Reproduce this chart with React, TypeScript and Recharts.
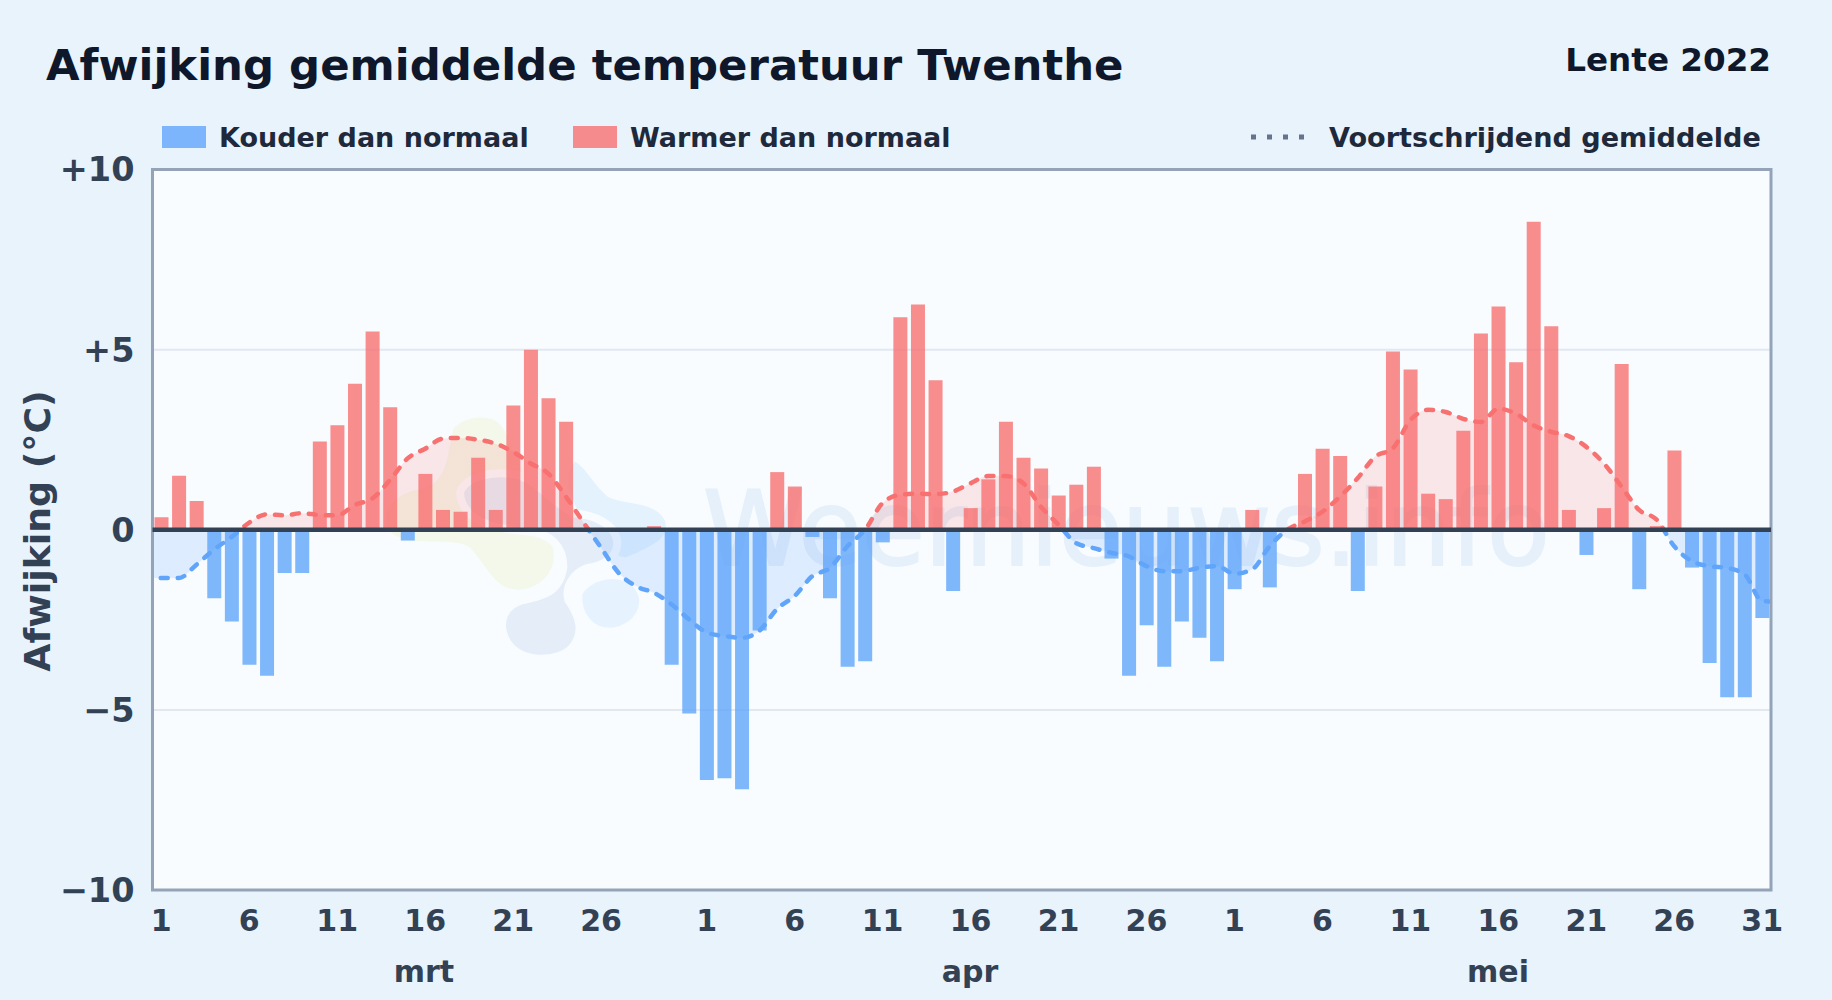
import React from 'react';
import { ComposedChart, Area, Bar, XAxis, YAxis, CartesianGrid, ReferenceLine, ReferenceArea } from 'recharts';

// afwijking per dag (graden t.o.v. normaal)
const maart = [
  0.35, 1.5, 0.8, -1.9, -2.55, -3.75, -4.05, -1.2, -1.2, 2.45, 2.9, 4.05, 5.5, 3.4, -0.3, 1.55,
  0.55, 0.5, 2.0, 0.55, 3.45, 5.0, 3.65, 3.0, 0, 0, 0, 0, 0.1, -3.75, -5.1,
];
const april = [
  -6.95, -6.9, -7.2, -2.8, 1.6, 1.2, -0.2, -1.9, -3.8, -3.65, -0.35, 5.9, 6.25, 4.15, -1.7, 0.6,
  1.4, 3.0, 2.0, 1.7, 0.95, 1.25, 1.75, -0.8, -4.05, -2.65, -3.8, -2.55, -3.0, -3.65,
];
const mei = [
  -1.65, 0.55, -1.6, 0, 1.55, 2.25, 2.05, -1.7, 1.2, 4.95, 4.45, 1.0, 0.85, 2.75, 5.45, 6.2,
  4.65, 8.55, 5.65, 0.55, -0.7, 0.6, 4.6, -1.65, 0.1, 2.2, -1.05, -3.7, -4.65, -4.65, -2.45,
];

// voortschrijdend gemiddelde
const gemMaart = [
  -1.34, -1.34, -0.97, -0.55, -0.2, 0.2, 0.43, 0.4, 0.46, 0.41, 0.4, 0.69, 0.87, 1.38, 1.98, 2.25,
  2.53, 2.55, 2.5, 2.39, 2.16, 1.84, 1.56, 0.92, 0.2, -0.5, -1.2, -1.57, -1.75, -2.07, -2.49,
];
const gemApril = [
  -2.85, -2.95, -3.0, -2.8, -2.2, -1.84, -1.29, -1.06, -0.46, 0, 0.74, 0.97, 1.0, 0.99, 1.06, 1.29,
  1.49, 1.49, 1.29, 0.64, 0.14, -0.37, -0.51, -0.64, -0.74, -1.01, -1.15, -1.15, -1.06, -1.01,
];
const gemMei = [
  -1.22, -1.1, -0.46, 0, 0.23, 0.5, 0.92, 1.43, 2.03, 2.26, 3.04, 3.33, 3.27, 3.08, 2.99, 3.36,
  3.22, 2.9, 2.72, 2.6, 2.3, 1.84, 1.2, 0.55, 0.28, -0.46, -0.87, -1.01, -1.06, -1.24, -1.98,
];
// de lijn loopt door tot de rand van het plotvlak (buiten het domein, wordt afgeknipt)
const gemRandLinks = -1.35;
const gemRandRechts = -2.0;

const maanden = ['mrt', 'apr', 'mei'];
const dagTicks = [1, 6, 11, 16, 21, 26];
const yTicks = [-10, -5, 0, 5, 10];

const afwijking = [...maart, ...april, ...mei];
const gemiddelde = [...gemMaart, ...gemApril, ...gemMei];
const dagen = [
  ...maart.map((_, i) => i + 1),
  ...april.map((_, i) => i + 1),
  ...mei.map((_, i) => i + 1),
];

const rijen = afwijking.map((v, i) => ({
  index: i,
  dag: dagen[i],
  koud: v < 0 ? v : null,
  warm: v > 0 ? v : null,
  gem: gemiddelde[i],
}));

const data = [
  { index: -1, dag: 0, koud: null, warm: null, gem: gemRandLinks },
  ...rijen,
  { index: afwijking.length, dag: 0, koud: null, warm: null, gem: gemRandRechts },
];

const xTicks = rijen
  .filter((d) => dagTicks.includes(d.dag) || (d.dag === 31 && d.index === 91))
  .map((d) => d.index);

const FONT = '"DejaVu Sans", sans-serif';
const BLUE = '#60a5fa';
const RED = '#f87171';
const TICK = '#334155';
const INK = '#0f172a';
const LEGEND_INK = '#1e293b';

const W = 1832;
const H = 1000;
const PLOT = { left: 152.5, right: 1771, top: 169.5, bottom: 890 };

const formatY = (v: number) => (v > 0 ? `+${v}` : v < 0 ? `\u2212${-v}` : '0');

const text = (left: number, top: number, size: number, color: string, extra = {}) => ({
  position: 'absolute' as const,
  left,
  top,
  fontFamily: FONT,
  fontWeight: 700,
  fontSize: size,
  lineHeight: 1,
  color,
  whiteSpace: 'nowrap' as const,
  ...extra,
});

const swatch = (left: number, color: string) => ({
  position: 'absolute' as const,
  left,
  top: 126,
  width: 44,
  height: 22,
  background: color,
  opacity: 0.8,
});

// logo en tekst achter de grafiek
const Watermark = () => (
  <svg width={W} height={H} style={{ position: 'absolute', left: 0, top: 0 }}>
    <g transform="translate(360 390) scale(0.3333)" stroke="#f8fcff" strokeWidth={24} strokeLinejoin="round">
      <path
        d="M270 110 C310 60 410 55 440 110 C480 180 530 330 590 470 C610 560 530 620 460 610 C390 600 370 530 320 480 C260 450 130 490 80 430 C40 370 90 300 180 285 C260 270 250 170 270 110 Z"
        fill="#f3f8ea"
      />
      <path
        d="M640 200 C690 220 700 270 750 310 C800 335 890 320 925 385 C950 450 880 480 810 510 C770 530 720 470 660 400 C620 330 590 260 640 200 Z"
        fill="#e4f2fe"
      />
      <path
        d="M300 310 C310 260 400 240 470 255 C530 270 570 330 640 370 C700 375 770 400 772 460 C770 510 720 530 680 535 C640 550 615 590 625 630 C660 680 675 730 635 775 C590 820 480 820 440 755 C410 700 430 645 490 630 C540 620 600 610 610 530 C610 470 570 430 510 425 C440 420 310 410 300 310 Z"
        fill="#e5eef8"
      />
      <path
        d="M655 610 C685 555 785 530 835 590 C870 640 840 710 760 725 C695 730 650 680 655 610 Z"
        fill="#e6f3fe"
      />
    </g>
    <text x={703} y={565} fontFamily={FONT} fontSize={102.7} fill="#e5f0fa" stroke="#e5f0fa" strokeWidth={2}>
      Weernieuws.info
    </text>
  </svg>
);

export default function App() {
  return (
    <div style={{ position: 'absolute', left: 0, top: 0, width: W, height: H, background: '#e8f3fc', overflow: 'hidden' }}>
      <div
        style={{
          position: 'absolute',
          left: PLOT.left,
          top: PLOT.top,
          width: PLOT.right - PLOT.left,
          height: PLOT.bottom - PLOT.top,
          background: '#f8fcff',
        }}
      />
      <Watermark />

      <div style={text(46, 44, 43.4, INK)}>Afwijking gemiddelde temperatuur Twenthe</div>
      <div style={text(0, 44, 32.6, INK, { left: 'auto', right: 61 })}>Lente 2022</div>

      <div style={swatch(162, BLUE)} />
      <div style={text(219, 124, 27, LEGEND_INK)}>Kouder dan normaal</div>
      <div style={swatch(573, RED)} />
      <div style={text(630, 124, 27, LEGEND_INK)}>Warmer dan normaal</div>
      <svg width={60} height={10} style={{ position: 'absolute', left: 1250, top: 132 }}>
        <line x1={1} y1={5} x2={59} y2={5} stroke="#64748b" strokeWidth={5} strokeDasharray="5 11" />
      </svg>
      <div style={text(1329, 124, 27.1, LEGEND_INK)}>Voortschrijdend gemiddelde</div>

      <div
        style={text(38, 531, 36.3, TICK, {
          transform: 'translate(-50%, -50%) rotate(-90deg)',
        })}
      >
        Afwijking (°C)
      </div>

      {maanden.map((m, i) => (
        <div
          key={m}
          style={text([424, 970, 1498][i], 957, 30, TICK, { transform: 'translateX(-50%)' })}
        >
          {m}
        </div>
      ))}

      <div style={{ position: 'absolute', left: 0, top: 0 }}>
        <ComposedChart
          width={W}
          height={H}
          data={data}
          margin={{ left: 0, right: W - PLOT.right, top: PLOT.top, bottom: 0 }}
          barSize={14}
        >
          <defs>
            <linearGradient id="gemLijn" gradientUnits="userSpaceOnUse" x1={0} y1={PLOT.top} x2={0} y2={PLOT.bottom}>
              <stop offset="50%" stopColor={RED} />
              <stop offset="50%" stopColor={BLUE} />
            </linearGradient>
            <linearGradient id="gemVlak" gradientUnits="userSpaceOnUse" x1={0} y1={PLOT.top} x2={0} y2={PLOT.bottom}>
              <stop offset="50%" stopColor={RED} stopOpacity={0.16} />
              <stop offset="50%" stopColor={BLUE} stopOpacity={0.18} />
            </linearGradient>
          </defs>
          <CartesianGrid horizontal vertical={false} stroke="#e2e8f0" strokeWidth={2} />
          <XAxis
            dataKey="index"
            type="number"
            domain={[-0.5, afwijking.length - 0.5]}
            allowDataOverflow
            ticks={xTicks}
            interval={0}
            tickFormatter={(i: number) => String(dagen[i])}
            tick={{ fontFamily: FONT, fontWeight: 700, fontSize: 30, fill: TICK }}
            tickLine={false}
            axisLine={false}
            height={H - PLOT.bottom}
            tickMargin={14}
          />
          <YAxis
            domain={[-10, 10]}
            ticks={yTicks}
            tickFormatter={formatY}
            tick={{ fontFamily: FONT, fontWeight: 700, fontSize: 33.5, fill: TICK }}
            tickLine={false}
            axisLine={false}
            width={PLOT.left}
            tickMargin={12}
          />
          <Area
            dataKey="gem"
            type="monotone"
            baseValue={0}
            stroke="url(#gemLijn)"
            strokeWidth={4.5}
            strokeDasharray="7 10"
            strokeLinecap="round"
            fill="url(#gemVlak)"
            fillOpacity={1}
            dot={false}
            activeDot={false}
            isAnimationActive={false}
          />
          <Bar dataKey="koud" stackId="afw" fill={BLUE} fillOpacity={0.8} isAnimationActive={false} />
          <Bar dataKey="warm" stackId="afw" fill={RED} fillOpacity={0.8} isAnimationActive={false} />
          <ReferenceArea y1={-10} y2={10} fill="none" stroke="#94a3b8" strokeWidth={3} />
          <ReferenceLine y={0} stroke={TICK} strokeWidth={4.5} />
        </ComposedChart>
      </div>
    </div>
  );
}
